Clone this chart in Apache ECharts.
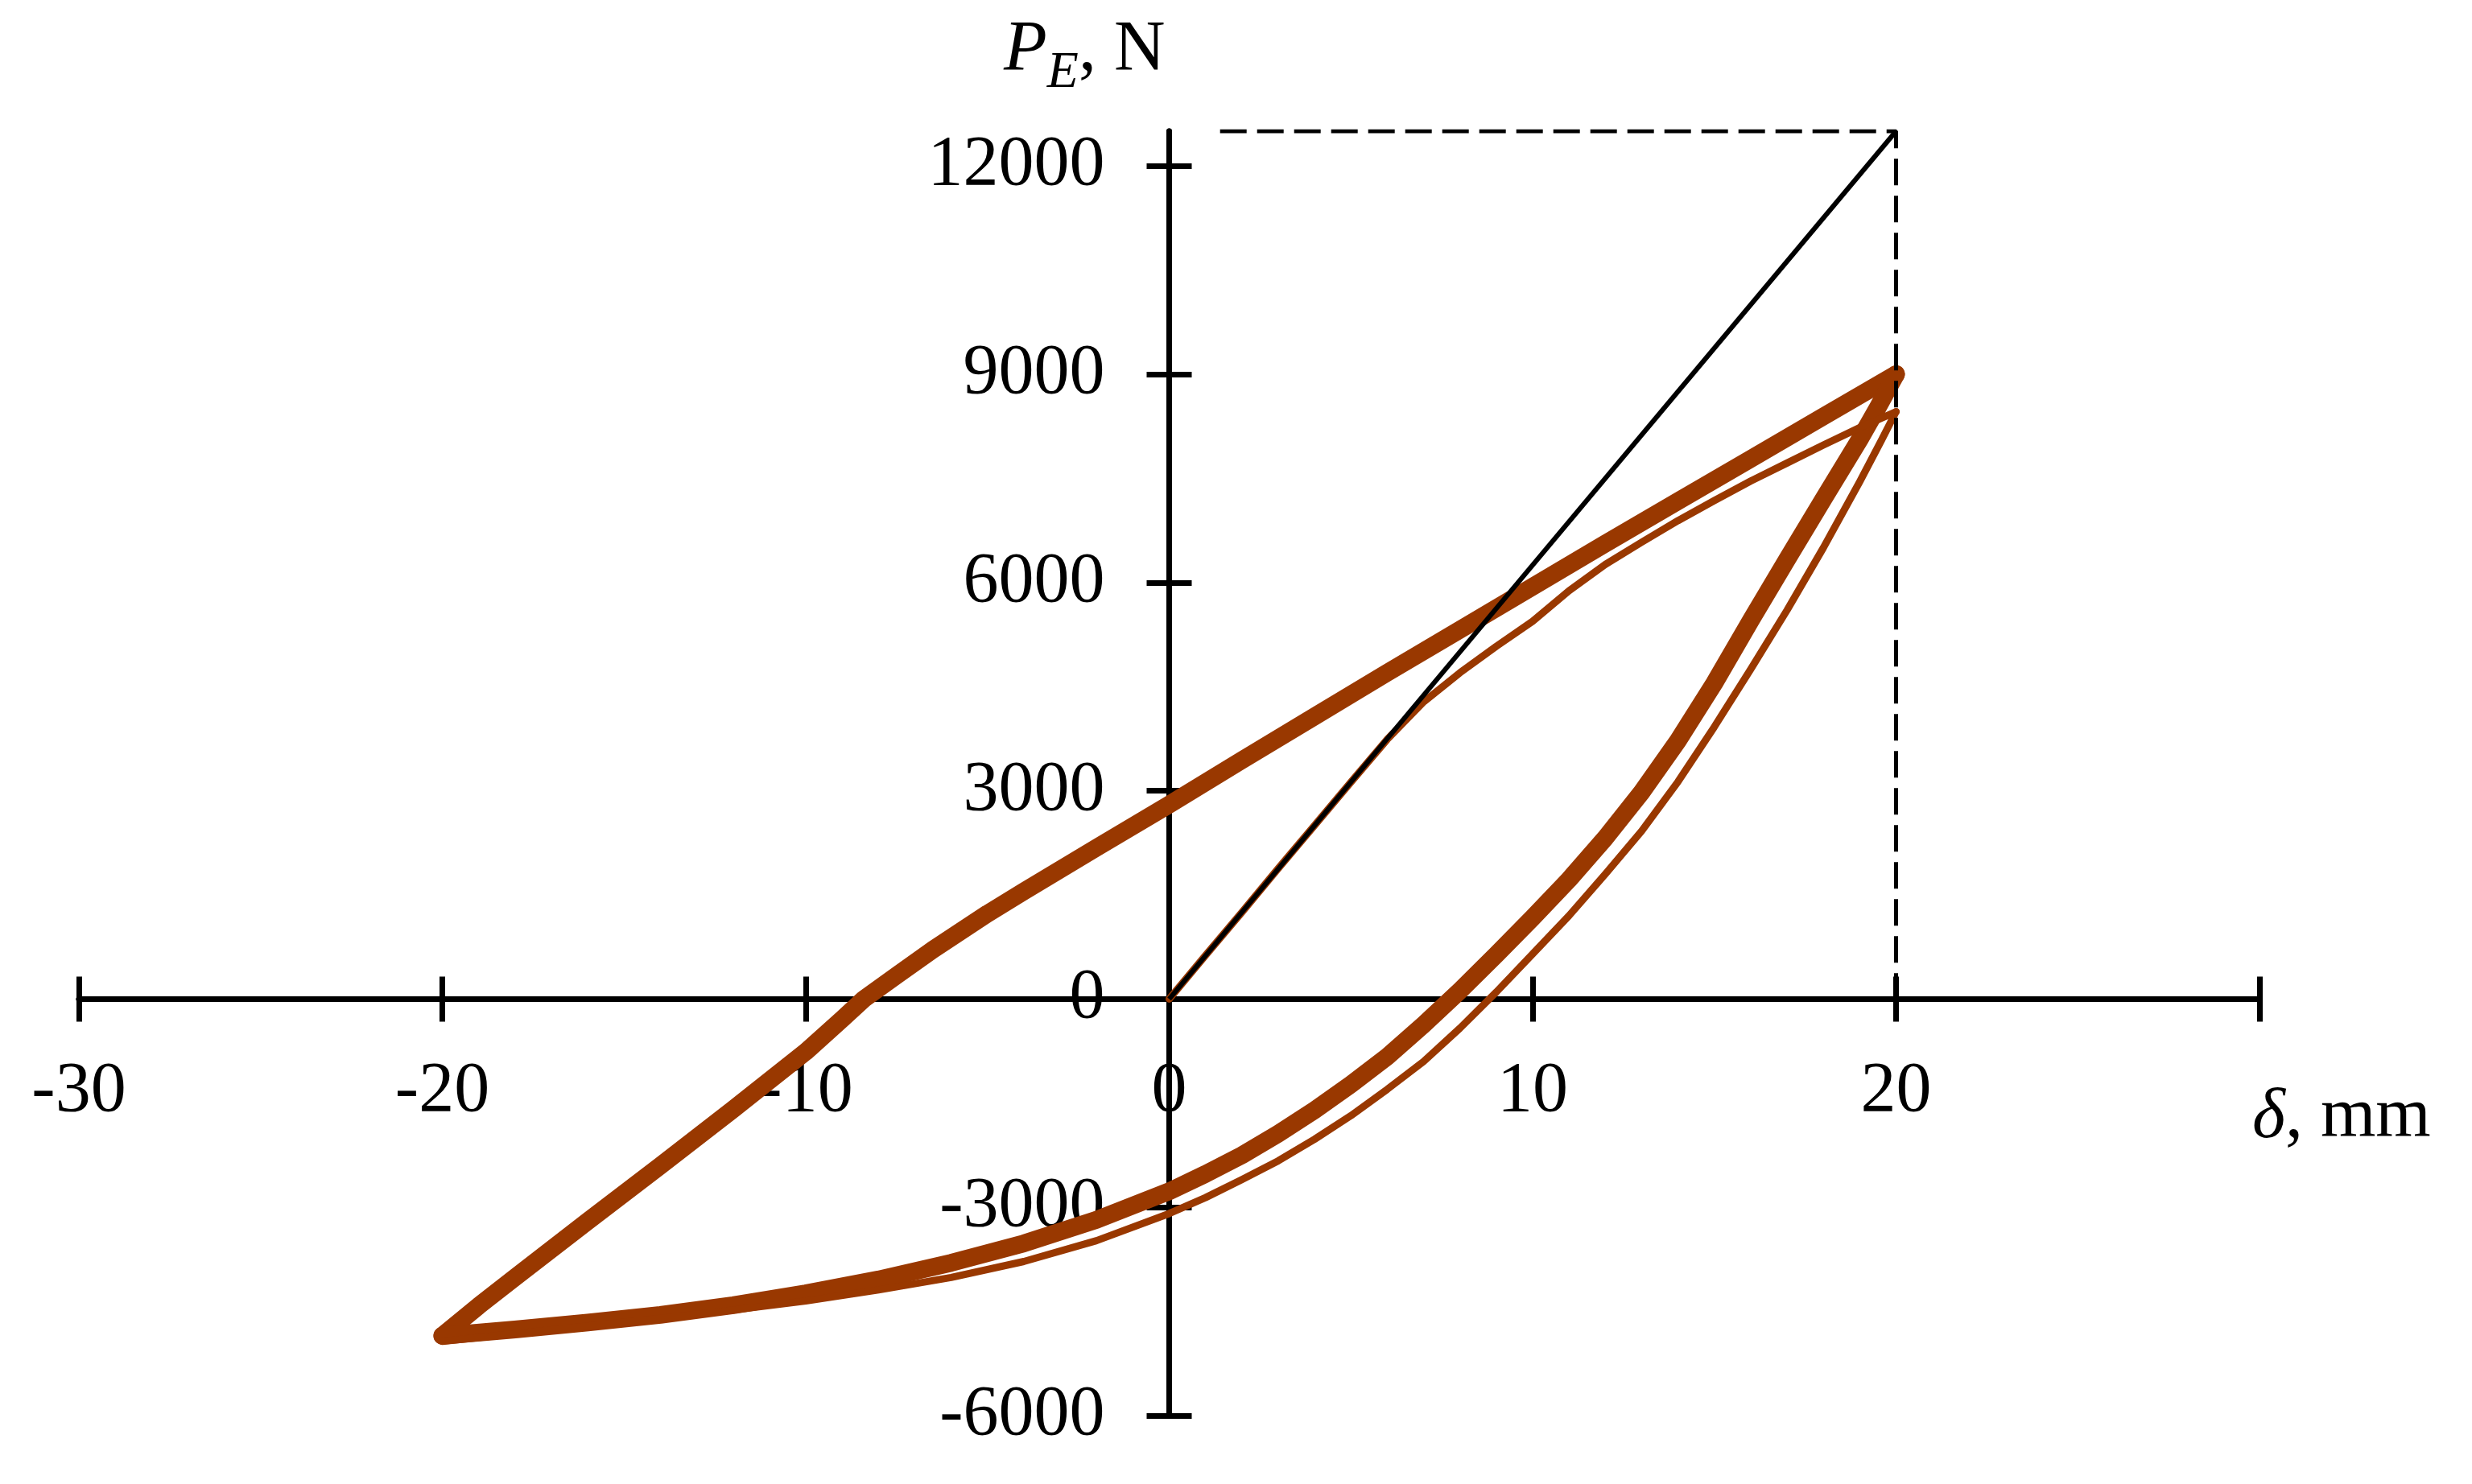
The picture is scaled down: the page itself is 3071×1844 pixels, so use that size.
<!DOCTYPE html>
<html>
<head>
<meta charset="utf-8">
<title>P_E vs delta</title>
<script src="https://cdn.jsdelivr.net/npm/echarts@6/dist/echarts.min.js"></script>
<style>
  html, body { margin: 0; padding: 0; background: #fff; }
  #chart { width: 3071px; height: 1844px; }
</style>
</head>
<body>
<div id="chart"></div>
<script>
// tick positions / labels
const xTicks = [-30, -20, -10, 0, 10, 20, 30]
const xLabels = [-30, -20, -10, 0, 10, 20]
const yTicks = [-6000, -3000, 0, 3000, 6000, 9000, 12000]

// first cycle (thin): virgin loading, then unloading
const virginLoading = [[0, 0], [1, 630], [2, 1250], [3, 1880], [4, 2500], [5, 3125], [6, 3740], [7, 4280], [8, 4700], [9, 5080], [10, 5440], [11, 5880], [12, 6260], [13, 6580], [14, 6890], [15, 7180], [16, 7460], [17, 7720], [18, 7980], [19, 8230], [20, 8460]]
const firstUnloading = [[20, 8460], [19.6, 8050], [19, 7450], [18, 6500], [17, 5600], [16, 4750], [15, 3920], [14, 3130], [13, 2420], [12, 1800], [11, 1200], [10, 650], [9, 100], [8, -420], [7, -900], [6, -1300], [5, -1680], [4, -2020], [3, -2330], [2, -2600], [1, -2860], [0, -3090], [-2, -3480], [-4, -3780], [-6, -4010], [-8, -4190], [-10, -4350], [-12, -4480], [-14, -4600], [-16, -4710], [-18, -4820], [-20, -4930]]

// stabilised cycles (thick band)
const stableUpper = [[-20, -4850], [-19, -4420], [-18, -4010], [-16, -3200], [-14, -2400], [-12, -1590], [-10, -760], [-9, -290], [-8.4, 0], [-7.5, 340], [-6.5, 712], [-5, 1230], [-4, 1550], [-2, 2180], [0, 2800], [2, 3440], [4, 4070], [6, 4700], [8, 5320], [10, 5940], [12, 6560], [14, 7170], [16, 7780], [18, 8390], [20, 9000]]
const stableLower = [[20, 9000], [19.5, 8520], [19, 8060], [18, 7200], [17, 6330], [16, 5450], [15, 4550], [14, 3720], [13, 2980], [12, 2320], [11, 1720], [10, 1170], [9, 640], [8, 120], [7, -370], [6, -830], [5, -1230], [4, -1600], [3, -1940], [2, -2250], [1, -2520], [0, -2770], [-2, -3180], [-4, -3520], [-6, -3800], [-8, -4040], [-10, -4240], [-12, -4410], [-14, -4550], [-16, -4660], [-18, -4760], [-20, -4850]]

// linear reference line and guides
const linearRef = [[0, 0], [20, 12500]]
const guide = [[1.4, 12500], [20, 12500], [20, 0]]

const FONT = '"Liberation Serif", "Times New Roman", serif'
const BROWN = '#993800'

const X_MIN = -30, X_MAX = 30, Y_MIN = -6000, Y_MAX = 12500
const G = { left: 98, right: 264, top: 163, bottom: 85 }
const W = 3071, H = 1844
const gw = W - G.left - G.right
const gh = H - G.top - G.bottom
// shift axes so they cross at the origin (labels move with them)
const yShift = gw * (0 - X_MIN) / (X_MAX - X_MIN)
const xShiftBottom = gh * (0 - Y_MIN) / (Y_MAX - Y_MIN)
const xShiftTop = gh * (Y_MAX - 0) / (Y_MAX - Y_MIN)

const chart = echarts.init(document.getElementById('chart'))

const axisLine = { onZero: false, lineStyle: { color: '#000', width: 7 } }
const tick = (vals) => ({ show: true, length: 28, customValues: vals, lineStyle: { color: '#000', width: 7 } })
const labelStyle = { color: '#000', fontSize: 88, fontFamily: FONT }
const plain = (v) => String(v)

const brownLine = (data, width) => ({
  type: 'line',
  data,
  showSymbol: false,
  smooth: false,
  lineStyle: { color: BROWN, width, join: 'round', cap: 'round' },
  silent: true
})

const option = {
  backgroundColor: '#fff',
  animation: false,
  grid: { ...G, containLabel: false, outerBoundsMode: 'none' },
  xAxis: [
    {
      type: 'value', min: X_MIN, max: X_MAX, position: 'bottom', offset: -xShiftBottom,
      axisLine, axisTick: tick(xTicks),
      axisLabel: { ...labelStyle, margin: 72, customValues: xLabels, formatter: plain },
      splitLine: { show: false },
      name: '{i|δ}, mm',
      nameLocation: 'end',
      nameGap: -9,
      nameTextStyle: {
        ...labelStyle, align: 'left', verticalAlign: 'top', padding: [104, 0, 0, 0],
        rich: { i: { fontStyle: 'italic', fontSize: 88, fontFamily: FONT, color: '#000' } }
      }
    },
    {
      type: 'value', min: X_MIN, max: X_MAX, position: 'top', offset: -xShiftTop,
      axisLine, axisTick: tick(xTicks),
      axisLabel: { show: false }, splitLine: { show: false }
    }
  ],
  yAxis: [
    {
      type: 'value', min: Y_MIN, max: Y_MAX, position: 'left', offset: -yShift,
      axisLine, axisTick: tick(yTicks),
      axisLabel: { ...labelStyle, margin: 80, customValues: yTicks, formatter: plain },
      splitLine: { show: false },
      name: '{i|P}{sub|E}{n|, N}',
      nameLocation: 'end',
      nameGap: 56,
      nameTextStyle: {
        ...labelStyle, align: 'right', verticalAlign: 'bottom', padding: [0, 5, 0, 0],
        rich: {
          i: { fontStyle: 'italic', fontSize: 88, lineHeight: 88, fontFamily: FONT, color: '#000', verticalAlign: 'top' },
          sub: { fontStyle: 'italic', fontSize: 64, lineHeight: 64, fontFamily: FONT, color: '#000', verticalAlign: 'top', padding: [40, 0, 0, 0] },
          n: { fontSize: 88, lineHeight: 88, fontFamily: FONT, color: '#000', verticalAlign: 'top' }
        }
      }
    },
    {
      type: 'value', min: Y_MIN, max: Y_MAX, position: 'right', offset: -yShift,
      axisLine, axisTick: tick(yTicks),
      axisLabel: { show: false }, splitLine: { show: false }
    }
  ],
  series: [
    brownLine(stableUpper, 22),
    brownLine(stableLower, 22),
    brownLine(virginLoading, 9),
    brownLine(firstUnloading, 9),
    {
      type: 'line', data: linearRef, showSymbol: false, silent: true,
      lineStyle: { color: '#000', width: 6 }
    },
    {
      type: 'line', data: guide, showSymbol: false, silent: true,
      lineStyle: { color: '#000', width: 5, type: [33, 13] }
    }
  ]
}

chart.setOption(option)
</script>
</body>
</html>
